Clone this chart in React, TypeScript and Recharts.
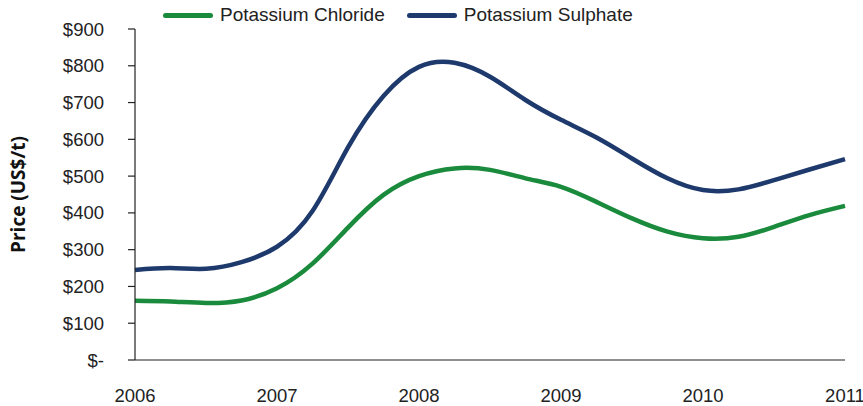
import { LineChart, Line, XAxis, YAxis, Label } from 'recharts';

// quarterly points
const quarters = [
  2006, 2006.25, 2006.5, 2006.75, 2007, 2007.25, 2007.5, 2007.75, 2008, 2008.25, 2008.5,
  2008.75, 2009, 2009.25, 2009.5, 2009.75, 2010, 2010.25, 2010.5, 2010.75, 2011,
];
const chloride = [161, 159, 155, 162, 195, 262, 360, 449, 500, 521, 517, 494, 471, 430, 385, 349, 331, 335, 362, 394, 419];
const sulphate = [245, 250, 248, 266, 308, 405, 578, 718, 797, 808, 770, 707, 653, 605, 548, 494, 462, 464, 489, 518, 546];
const yearTicks = [2006, 2007, 2008, 2009, 2010, 2011];
const priceTicks = [0, 100, 200, 300, 400, 500, 600, 700, 800, 900];

const series = [
  { key: 'chloride', name: 'Potassium Chloride', color: '#1a8a3c' },
  { key: 'sulphate', name: 'Potassium Sulphate', color: '#1e3a6d' },
];

const data = quarters.map((q, i) => ({ t: q, chloride: chloride[i], sulphate: sulphate[i] }));

const fmtPrice = (v: number) => (v === 0 ? '$-' : `$${v}`);
const tickStyle = { fontSize: 18.5, fill: '#222', fontFamily: '"Liberation Sans", Arial, sans-serif' };

export default function App() {
  return (
    <div style={{ position: 'absolute', left: 0, top: 0, width: 863, height: 406, background: '#fff' }}>
      <div
        style={{
          position: 'absolute', left: 163, top: 4, display: 'flex', alignItems: 'center', gap: 22,
          fontFamily: '"Liberation Sans", Arial, sans-serif', fontSize: 19, color: '#222', zIndex: 2,
        }}
      >
        {series.map((s) => (
          <div key={s.key} style={{ display: 'flex', alignItems: 'center' }}>
            <span style={{ display: 'inline-block', width: 50, height: 5, borderRadius: 3, background: s.color, marginRight: 7 }} />
            <span>{s.name}</span>
          </div>
        ))}
      </div>
      <LineChart width={863} height={406} data={data} margin={{ top: 29, right: 18, bottom: 0, left: 0 }}>
        <XAxis
          dataKey="t" type="number" domain={[2006, 2011]} ticks={yearTicks} height={46}
          tickLine={false} tickSize={0} tickMargin={29} tick={tickStyle}
          axisLine={{ stroke: '#222', strokeWidth: 1.2 }} interval={0}
        />
        <YAxis
          domain={[0, 900]} ticks={priceTicks} tickFormatter={fmtPrice} width={135}
          tickSize={7} tickMargin={24} tick={tickStyle}
          axisLine={{ stroke: '#222', strokeWidth: 1.2 }} tickLine={{ stroke: '#222', strokeWidth: 1.2 }}
          interval={0}
        >
          <Label
            value="Price (US$/t)" angle={-90} position="insideLeft" offset={18}
            style={{ fontSize: 19, fontWeight: 700, fill: '#111', fontFamily: '"Open Sans", sans-serif', textAnchor: 'middle' }}
          />
        </YAxis>
        {series.map((s) => (
          <Line
            key={s.key} type="natural" dataKey={s.key} name={s.name} stroke={s.color}
            strokeWidth={4.5} dot={false} activeDot={false} isAnimationActive={false}
          />
        ))}
      </LineChart>
    </div>
  );
}
